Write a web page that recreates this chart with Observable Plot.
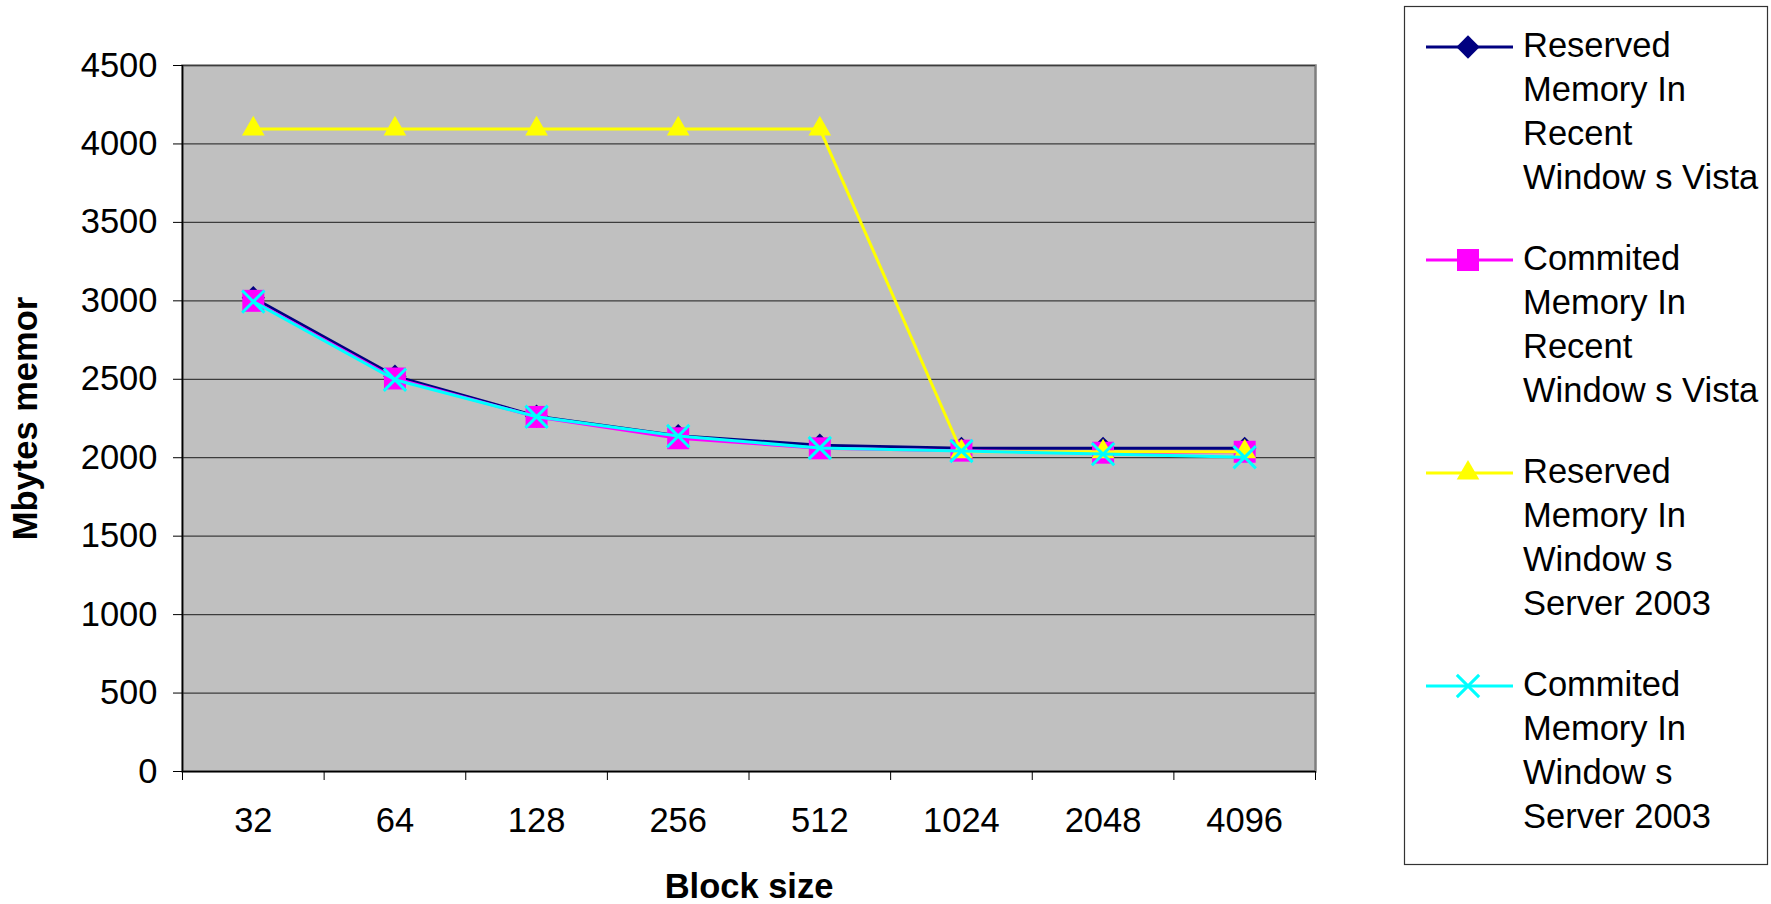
<!DOCTYPE html>
<html>
<head>
<meta charset="utf-8">
<script src="https://cdn.jsdelivr.net/npm/d3@7"></script>
<script src="https://cdn.jsdelivr.net/npm/@observablehq/plot@0.6"></script>
<style>
  html, body { margin: 0; padding: 0; background: #ffffff; }
  #chart svg { display: block; }
</style>
</head>
<body>
<div id="chart"></div>
<script>
// Block sizes tested (x categories)
const blockSizes = ["32", "64", "128", "256", "512", "1024", "2048", "4096"];

// Memory in MB per block size
const reservedVista       = [3020, 2520, 2265, 2140, 2080, 2060, 2060, 2060];
const committedVista      = [3000, 2505, 2260, 2124, 2060, 2045, 2032, 2038];
const reservedServer2003  = [4096, 4096, 4096, 4096, 4096, 2038, 2038, 2038];
const committedServer2003 = [2995, 2497, 2261, 2138, 2062, 2043, 2023, 2003];

const yTicks = [0, 500, 1000, 1500, 2000, 2500, 3000, 3500, 4000, 4500];

// Legend text, wrapped as in the legend box
const seriesLabels = [
  ["Reserved", "Memory In", "Recent", "Window s Vista"],
  ["Commited", "Memory In", "Recent", "Window s Vista"],
  ["Reserved", "Memory In", "Window s", "Server 2003"],
  ["Commited", "Memory In", "Window s", "Server 2003"]
];

const series = [
  {values: reservedVista,       color: "#000080", symbol: "diamond2", r: 10.5, filled: true},
  {values: committedVista,      color: "#ff00ff", symbol: "square",   r: 12.4, filled: true},
  {values: reservedServer2003,  color: "#ffff00", symbol: "triangle", r: 8.4,  filled: true},
  {values: committedServer2003, color: "#00ffff", symbol: "times",    r: 10.2, filled: false}
];

const rows = (values) => values.map((v, i) => ({i: i + 0.5, block: blockSizes[i], value: v}));

const font = "'Liberation Sans', Arial, sans-serif";

const seriesMarks = series.flatMap(s => {
  const data = rows(s.values);
  return [
    Plot.line(data, {x: "i", y: "value", stroke: s.color, strokeWidth: 3}),
    s.filled
      ? Plot.dot(data, {x: "i", y: "value", symbol: s.symbol, r: s.r, fill: s.color, stroke: "none"})
      : Plot.dot(data, {x: "i", y: "value", symbol: s.symbol, r: s.r, stroke: s.color, strokeWidth: 3, fill: "none"})
  ];
});

const chart = Plot.plot({
  width: 1771,
  height: 904,
  marginLeft: 182,
  marginRight: 456,
  marginTop: 65,
  marginBottom: 133,
  style: {fontFamily: font, fontSize: "34px", color: "#000", background: "#fff", overflow: "visible"},
  x: {type: "linear", domain: [0, blockSizes.length]},
  y: {domain: [0, 4500]},
  marks: [
    Plot.frame({fill: "#c0c0c0", stroke: "#7f7f7f", strokeWidth: 2.5}),
    Plot.gridY(yTicks.filter(d => d > 0), {stroke: "#3c3c3c", strokeOpacity: 1, strokeWidth: 1.2}),
    Plot.ruleX([0], {stroke: "#000", strokeWidth: 1.5}),
    Plot.ruleY([0], {stroke: "#000", strokeWidth: 1.5}),
    Plot.axisY({ticks: yTicks, tickSize: 9, tickPadding: 16, fontSize: 34.5, label: null, stroke: "#000",
      tickFormat: d => String(d)}),
    Plot.axisX({ticks: d3.range(blockSizes.length + 1), tickSize: 9, tickFormat: () => "", label: null, stroke: "#000"}),
    Plot.axisX({ticks: blockSizes.map((_, i) => i + 0.5), tickSize: 0, tickPadding: 36, fontSize: 34.5,
      tickFormat: v => blockSizes[Math.floor(v)], label: null}),
    ...seriesMarks,
    Plot.text(["Mbytes memor"], {frameAnchor: "left", dx: -146, rotate: -90, fontSize: 34.5, fontWeight: "bold",
      textAnchor: "middle", lineAnchor: "bottom"}),
    Plot.text(["Block size"], {frameAnchor: "bottom", dy: 126, fontSize: 34.5, fontWeight: "bold",
      textAnchor: "middle", lineAnchor: "bottom"})
  ]
});

document.getElementById("chart").appendChild(chart);

// Legend box on the right, drawn into the same SVG
const svg = d3.select(chart);
const legend = svg.append("g")
  .attr("font-family", font)
  .attr("font-size", 34.5)
  .attr("text-anchor", "start");
legend.append("rect")
  .attr("x", 1404.5).attr("y", 6.5).attr("width", 363).attr("height", 858)
  .attr("fill", "#fff").attr("stroke", "#333").attr("stroke-width", 1.2);

const symbolTypes = {diamond2: d3.symbolDiamond2, square: d3.symbolSquare, triangle: d3.symbolTriangle, times: d3.symbolTimes};

series.forEach((s, k) => {
  const ly = 47 + k * 213;
  legend.append("line")
    .attr("x1", 1426).attr("x2", 1513).attr("y1", ly).attr("y2", ly)
    .attr("stroke", s.color).attr("stroke-width", 3);
  const path = d3.symbol(symbolTypes[s.symbol], Math.PI * s.r * s.r)();
  const m = legend.append("path").attr("d", path).attr("transform", `translate(1468,${ly})`);
  if (s.filled) m.attr("fill", s.color).attr("stroke", "none");
  else m.attr("fill", "none").attr("stroke", s.color).attr("stroke-width", 3);
  seriesLabels[k].forEach((t, j) => {
    legend.append("text")
      .attr("x", 1523).attr("y", ly + 9.5 + j * 44)
      .attr("text-anchor", "start")
      .attr("fill", "#000")
      .text(t);
  });
});
</script>
</body>
</html>
